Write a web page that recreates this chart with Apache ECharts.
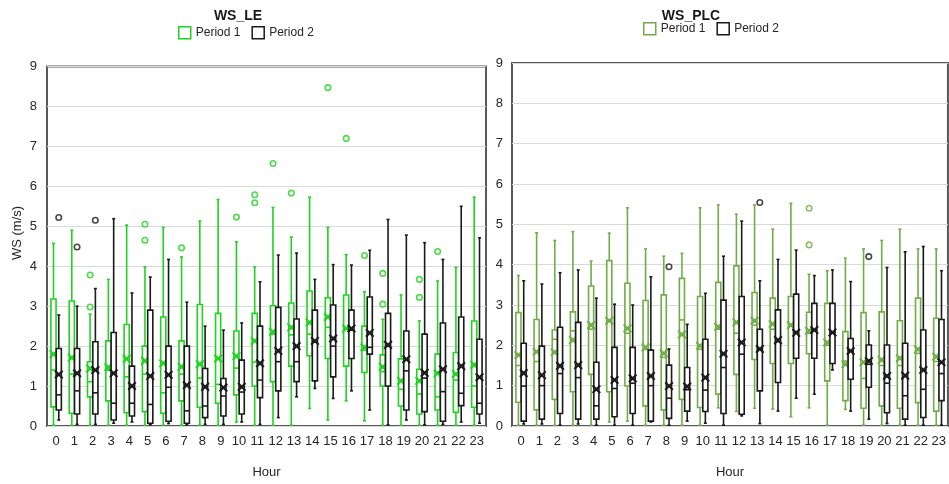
<!DOCTYPE html>
<html><head><meta charset="utf-8">
<script src="https://cdn.jsdelivr.net/npm/echarts@6/dist/echarts.min.js"></script>
<style>html,body{margin:0;padding:0;background:#fff}#c{width:949px;height:484px}</style>
</head><body><div id="c"></div>
<script>
const hours = ['0','1','2','3','4','5','6','7','8','9','10','11','12','13','14','15','16','17','18','19','20','21','22','23'];
const yTicks = [0,1,2,3,4,5,6,7,8,9];
// rows: [min, q1, median, q3, max, mean]
const le_p1 = [
 [0.02,0.48,1.4,3.18,4.57,1.8],[0.02,0.32,1.3,3.13,4.9,1.71],[0.02,0.73,1.11,1.61,2.8,1.44],[0.02,0.63,1.4,2.13,3.67,1.47],
 [0.02,0.33,1.23,2.54,5.03,1.68],[0.02,0.36,1.3,2.0,3.98,1.63],[0.02,0.32,0.83,2.73,4.97,1.57],[0.02,0.63,1.3,2.13,4.23,1.48],
 [0.02,0.47,1.2,3.04,5.13,1.55],[0.02,0.57,1.04,2.82,5.67,1.69],[0.1,0.78,1.45,2.38,4.61,1.75],[0.02,1.0,1.6,2.82,3.98,2.13],
 [0.02,1.11,2.3,3.01,5.47,2.36],[0.02,1.5,2.28,3.08,4.73,2.47],[0.44,1.76,2.3,3.38,5.73,2.59],[0.15,1.69,2.47,3.21,4.97,2.73],
 [0.63,1.5,2.45,3.28,4.29,2.44],[0.13,1.34,1.9,2.5,3.36,1.97],[0.02,1.0,1.36,1.78,2.67,1.48],[0.02,0.5,0.92,1.68,3.28,1.13],
 [0.02,0.3,0.8,1.42,2.63,1.13],[0.02,0.4,0.73,1.8,3.63,1.32],[0.02,0.34,1.15,1.84,3.97,1.3],[0.02,0.47,1.0,2.63,5.73,1.53]
];
const le_p2 = [
 [0.15,0.4,0.78,1.94,2.78,1.29],[0.04,0.3,0.88,1.94,3.0,1.32],[0.04,0.3,0.83,2.11,3.44,1.4],[0.07,0.15,0.57,2.34,5.19,1.32],
 [0.1,0.25,0.57,1.5,3.33,1.0],[0.03,0.07,0.54,2.9,3.73,1.25],[0.06,0.12,0.97,2.0,4.17,1.28],[0.03,0.07,0.38,2.0,3.1,1.02],
 [0.04,0.21,0.5,1.44,2.5,0.98],[0.04,0.25,0.75,1.19,2.4,0.96],[0.1,0.3,0.85,1.65,2.58,0.98],[0.04,0.71,1.15,2.5,3.61,1.57],
 [0.21,0.88,1.61,2.97,4.28,1.88],[0.73,1.11,1.61,2.68,4.33,2.0],[0.94,1.13,2.1,2.9,3.67,2.13],[0.69,1.23,2.0,3.03,4.04,2.19],
 [0.88,1.69,2.4,2.9,4.03,2.44],[0.4,1.8,1.97,3.23,4.4,2.33],[0.03,1.0,2.0,2.82,5.17,2.03],[0.15,0.4,1.38,2.38,4.78,1.67],
 [0.03,0.36,1.2,2.3,4.59,1.33],[0.04,0.12,0.86,2.58,4.17,1.42],[0.1,0.51,0.82,2.73,5.5,1.5],[0.07,0.3,0.57,2.17,4.71,1.22]
];
const plc_p1 = [
 [0.02,0.59,1.5,2.81,3.73,1.76],[0.02,0.4,1.6,2.64,4.79,1.84],[0.02,0.66,2.15,2.38,4.6,1.83],[0.02,0.85,2.36,2.83,4.82,2.13],
 [0.02,1.28,2.4,3.47,4.09,2.5],[0.1,0.85,2.6,4.1,4.78,2.61],[0.12,0.99,2.3,3.54,5.41,2.42],[0.02,0.5,1.9,3.11,4.39,1.95],
 [0.02,0.4,1.7,3.25,4.21,1.8],[0.02,0.66,2.63,3.66,4.28,2.27],[0.02,0.46,1.9,3.21,5.41,1.99],[0.45,0.79,2.4,3.56,5.48,2.46],
 [0.36,1.28,2.3,3.97,5.25,2.57],[0.44,1.65,2.5,3.31,5.48,2.61],[0.42,1.55,2.4,3.17,4.88,2.53],[0.23,1.55,2.5,3.21,5.52,2.5],
 [0.45,1.79,2.3,2.82,3.76,2.36],[0.02,1.12,2.0,3.04,3.85,2.07],[0.41,0.63,1.61,2.34,4.16,1.53],[0.02,0.44,1.18,2.81,4.39,1.58],
 [0.02,0.5,1.5,2.83,4.6,1.64],[0.02,0.44,1.5,2.61,4.88,1.68],[0.02,0.58,1.8,3.17,4.39,1.9],[0.02,0.37,1.6,2.67,4.39,1.72]
];
const plc_p2 = [
 [0.05,0.12,0.99,2.05,3.6,1.31],[0.05,0.17,1.0,1.98,3.52,1.26],[0.02,0.31,1.3,2.45,3.8,1.49],[0.05,0.17,1.2,2.57,3.87,1.51],
 [0.02,0.17,0.5,1.58,3.17,0.91],[0.02,0.23,0.93,1.95,3.02,1.14],[0.02,0.31,1.06,1.95,3.0,1.18],[0.1,0.12,1.0,1.88,3.7,1.24],
 [0.02,0.19,0.69,1.51,1.91,0.99],[0.12,0.37,0.9,1.45,2.52,0.98],[0.07,0.36,0.89,2.15,3.29,1.2],[0.02,0.31,1.45,3.12,4.21,1.79],
 [0.25,0.29,1.78,3.21,5.08,2.07],[0.06,0.87,1.91,2.4,3.6,1.91],[0.37,1.08,2.09,2.88,4.13,2.13],[0.69,1.68,2.34,3.27,4.36,2.31],
 [0.79,1.68,2.38,3.04,3.73,2.38],[1.39,1.55,2.32,3.04,3.87,2.32],[0.37,1.16,1.86,2.17,3.58,1.86],[0.17,0.96,1.53,2.01,2.36,1.61],
 [0.06,0.33,1.06,2.01,3.93,1.24],[0.02,0.17,0.75,2.05,4.32,1.25],[0.02,0.21,0.91,2.38,4.45,1.39],[0.02,0.63,1.3,2.64,3.85,1.58]
];
// outliers: [hourIndex, value]
const le_p1_out = [[2,3.78],[2,2.98],[5,5.05],[5,4.65],[7,4.46],[10,5.23],[11,5.79],[11,5.59],[12,6.57],[13,5.83],[15,8.47],[16,7.2],[17,4.27],[18,3.82],[18,3.05],[20,3.67],[20,3.22],[21,4.37]];
const le_p2_out = [[0,5.22],[1,4.48],[2,5.15]];
const plc_p1_out = [[16,5.4],[16,4.49]];
const plc_p2_out = [[8,3.95],[13,5.54],[19,4.2]];

const GREEN_LE = '#1fd31f', GREEN_PLC = '#70ad47', BLACK = '#1a1a1a';

function render(side, color) {
  return function (params, api) {
    const h = api.value(0);
    const mn = api.value(1), q1 = api.value(2), md = api.value(3), q3 = api.value(4), mx = api.value(5), mean = api.value(6);
    const band = api.size([1, 0])[0];
    const bw = band * 0.28;
    const cx = api.coord([h, 0])[0] + side * band * 0.145;
    const y = v => api.coord([h, v])[1];
    const ln = (x1, y1, x2, y2, w) => ({ type: 'line', shape: { x1, y1, x2, y2 }, style: { stroke: color, lineWidth: w || 1.6 } });
    const ym = y(mean), s = 3.8;
    return { type: 'group', children: [
      ln(cx, y(q3), cx, y(mx)), ln(cx, y(q1), cx, y(mn)),
      ln(cx - 1.5, y(mx), cx + 1.5, y(mx)), ln(cx - 1.5, y(mn), cx + 1.5, y(mn)),
      { type: 'rect', shape: { x: cx - bw / 2, y: y(q3), width: bw, height: y(q1) - y(q3) }, style: { fill: '#fff', stroke: color, lineWidth: 1.6 } },
      ln(cx - bw / 2, y(md), cx + bw / 2, y(md)),
      ln(cx - s, ym - s, cx + s, ym + s, 2.1), ln(cx - s, ym + s, cx + s, ym - s, 2.1)
    ]};
  };
}
function boxData(rows) { return rows.map((r, i) => [i].concat(r)); }
function boxSeries(name, rows, idx, side, color) {
  return { name, type: 'custom', xAxisIndex: idx, yAxisIndex: idx, renderItem: render(side, color),
    data: boxData(rows), encode: { x: 0, y: [1, 5] }, itemStyle: { color } , z: 3};
}
function outSeries(name, pts, idx, side, color) {
  return { name, type: 'scatter', xAxisIndex: idx, yAxisIndex: idx, data: pts, symbol: 'circle', symbolSize: 5.5,
    symbolOffset: [side * 2.6, 0], itemStyle: { color: '#fff', borderColor: color, borderWidth: 1.6 }, z: 4 };
}
const labelFont = { color: '#262626', fontSize: 13, fontFamily: 'Liberation Sans' };
const xLab = { color: '#262626', fontSize: 13, fontFamily: 'Liberation Sans Narrow, Liberation Sans', margin: 9, interval: 0 };

const chart = echarts.init(document.getElementById('c'), null, { renderer: 'canvas' });
chart.setOption({
  animation: false,
  title: [
    { text: 'WS_LE', left: 233, top: 4, textAlign: 'center', textStyle: { fontSize: 14, fontWeight: 'bold', color: '#1a1a1a', fontFamily: 'Liberation Sans' } },
    { text: 'WS_PLC', left: 686, top: 4, textAlign: 'center', textStyle: { fontSize: 14, fontWeight: 'bold', color: '#1a1a1a', fontFamily: 'Liberation Sans' } }
  ],
  legend: [
    { left: 173, top: 21, itemWidth: 12, itemHeight: 12, itemGap: 11, icon: 'rect', selectedMode: false,
      textStyle: { fontSize: 12, color: '#262626', fontFamily: 'Liberation Sans' },
      data: [{ name: 'Period 1', itemStyle: { color: '#fff', borderColor: GREEN_LE, borderWidth: 1.5 } },
             { name: 'Period 2', itemStyle: { color: '#fff', borderColor: BLACK, borderWidth: 1.5 } }] },
    { left: 638, top: 17, itemWidth: 12, itemHeight: 12, itemGap: 11, icon: 'rect', selectedMode: false,
      textStyle: { fontSize: 12, color: '#262626', fontFamily: 'Liberation Sans' },
      data: [{ name: 'Period 1', itemStyle: { color: '#fff', borderColor: GREEN_PLC, borderWidth: 1.5 } },
             { name: 'Period 2', itemStyle: { color: '#fff', borderColor: BLACK, borderWidth: 1.5 } }] }
  ],
  grid: [
    { left: 47, top: 66.5, width: 439, height: 361.5, show: true, borderColor: '#595959', borderWidth: 2, backgroundColor: '#fff' },
    { left: 512, top: 63, width: 440, height: 363.7, show: true, borderColor: '#595959', borderWidth: 2, backgroundColor: '#fff' }
  ],
  xAxis: [0, 1].map(i => ({ type: 'category', gridIndex: i, data: hours, axisTick: { show: false },
    axisLine: { show: false }, axisLabel: xLab, name: 'Hour', nameLocation: 'middle', nameGap: 40,
    nameTextStyle: { fontSize: 13, color: '#262626', fontFamily: 'Liberation Sans Narrow, Liberation Sans' } })),
  yAxis: [0, 1].map(i => ({ type: 'value', gridIndex: i, min: yTicks[0], max: yTicks[yTicks.length - 1], interval: 1,
    axisLine: { show: false }, axisTick: { show: false }, axisLabel: Object.assign({ margin: i ? 9 : 10 }, labelFont),
    splitLine: { lineStyle: { color: '#d9d9d9', width: 1.2 } } })),
  graphic: [{ type: 'text', x: 17, y: 233, rotation: Math.PI / 2, style: { text: 'WS (m/s)', fontSize: 13,
    fill: '#262626', fontFamily: 'Liberation Sans', textAlign: 'center', textVerticalAlign: 'middle' } }],
  series: [
    boxSeries('Period 1', le_p1, 0, -1, GREEN_LE), boxSeries('Period 2', le_p2, 0, 1, BLACK),
    outSeries('Period 1', le_p1_out, 0, -1, GREEN_LE), outSeries('Period 2', le_p2_out, 0, 1, BLACK),
    boxSeries('Period 1', plc_p1, 1, -1, GREEN_PLC), boxSeries('Period 2', plc_p2, 1, 1, BLACK),
    outSeries('Period 1', plc_p1_out, 1, -1, GREEN_PLC), outSeries('Period 2', plc_p2_out, 1, 1, BLACK)
  ]
});
</script></body></html>
